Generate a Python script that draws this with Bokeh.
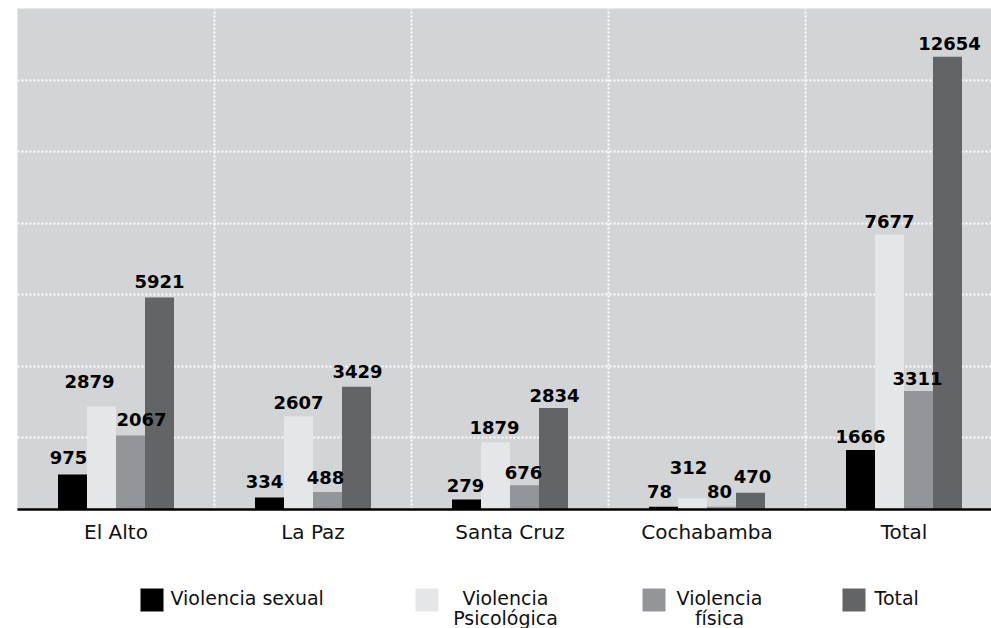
from bokeh.plotting import figure
from bokeh.models import Range1d, FixedTicker, Grid
from bokeh.layouts import column
from bokeh.core.properties import value
from bokeh.embed import file_html
from bokeh.resources import INLINE

# Data: reported cases by city and type of violence
regions = ["El Alto", "La Paz", "Santa Cruz", "Cochabamba", "Total"]
sexual = [975, 334, 279, 78, 1666]
psicologica = [2879, 2607, 1879, 312, 7677]
fisica = [2067, 488, 676, 80, 3311]
total = [5921, 3429, 2834, 470, 12654]

series_names = ["Violencia sexual", "Violencia\nPsicológica", "Violencia\nfísica", "Total"]
series_values = [sexual, psicologica, fisica, total]
colors = ["#000000", "#e5e6e8", "#939598", "#636466"]

# small pixel nudges for the value labels (per series, per region)
label_dx = [[-4, -5, -1, -4, 0], [-12, 0, -1, -4, 0], [11, -2, -1, -2, -1], [0, 1, 1, 2, 2]]
label_dy = [[-3, -2, 0, -1, 1], [-11, 0, -1, -17, 1], [-2, -1, 1, -1, 1], [-2, -1, 1, -2, 1]]
LABEL_GAP = 14

BG = "#d3d4d6"
W = 991
LEFT = 17
FRAME_W = W - LEFT
CAT_PX = 197.0
bar_w = 29.0 / CAT_PX

p = figure(
    width=W, height=560,
    x_range=Range1d(-0.5, -0.5 + FRAME_W / CAT_PX),
    y_range=Range1d(0, 14000),
    y_axis_location=None,
    toolbar_location=None,
    output_backend="svg",
    min_border_left=LEFT, min_border_right=0, min_border_top=8, min_border_bottom=51,
)
p.background_fill_color = BG
p.border_fill_color = "white"
p.outline_line_color = None

# dotted white grid: horizontal every 2000, vertical between groups
p.xgrid.visible = False
p.ygrid.ticker = FixedTicker(ticks=[2000, 4000, 6000, 8000, 10000, 12000])
p.ygrid.grid_line_color = "white"
p.ygrid.grid_line_width = 2
p.ygrid.grid_line_dash = "2 2"
vgrid = Grid(dimension=0, ticker=FixedTicker(ticks=[0.5, 1.5, 2.5, 3.5]),
             grid_line_color="white", grid_line_width=2, grid_line_dash="2 2")
p.add_layout(vgrid)

xs = list(range(len(regions)))
bar_x = []
for k, (vals, col) in enumerate(zip(series_values, colors)):
    off = (k - 1.5) * bar_w
    bx = [x + off for x in xs]
    bar_x.append(bx)
    p.vbar(x=bx, top=vals, bottom=0, width=bar_w, fill_color=col, line_color=None)

# value labels drawn after all bars so none is hidden
for k, vals in enumerate(series_values):
    p.text(x=bar_x[k], y=vals, text=[str(v) for v in vals],
           x_offset=label_dx[k], y_offset=[-LABEL_GAP + d for d in label_dy[k]],
           text_align="center", text_baseline="alphabetic",
           text_font=value("DejaVu Sans"), text_font_style="bold",
           text_font_size="18px", text_color="#000000")

ax = p.xaxis[0]
ax.ticker = FixedTicker(ticks=xs)
ax.major_label_overrides = {i: r for i, r in enumerate(regions)}
ax.axis_line_color = "#000000"
ax.axis_line_width = 2.5
ax.major_tick_line_color = None
ax.minor_tick_line_color = None
ax.major_label_standoff = 4
ax.major_label_text_font = "DejaVu Sans"
ax.major_label_text_font_size = "20px"
ax.major_label_text_color = "#111111"

# legend strip below the chart (its frame lines up with the chart frame)
leg = figure(
    width=W, height=68,
    x_range=Range1d(LEFT, W), y_range=Range1d(628, 560),
    x_axis_location=None, y_axis_location=None,
    toolbar_location=None, output_backend="svg",
    min_border_left=LEFT, min_border_right=0, min_border_top=0, min_border_bottom=0,
)
leg.outline_line_color = None
leg.background_fill_color = "white"
leg.border_fill_color = "white"
for g in leg.grid:
    g.visible = False

sw_left = [140, 415, 642, 842]
sw_size = 23
sw_top = 588
leg.quad(left=sw_left, right=[l + sw_size for l in sw_left],
         top=[sw_top] * 4, bottom=[sw_top + sw_size] * 4,
         fill_color=colors, line_color=None)

text_anchor = [(170, "left"), (505, "center"), (719, "center"), (874, "left")]
lx, ly, lt, la = [], [], [], []
for name, (tx, align) in zip(series_names, text_anchor):
    for j, line in enumerate(name.split("\n")):
        lx.append(tx)
        ly.append(597 + 20 * j)
        lt.append(line)
        la.append(align)
leg.text(x=lx, y=ly, text=lt, text_align=la, text_baseline="alphabetic",
         text_font=value("DejaVu Sans"), text_font_size="19px", text_color="#111111")

layout = column(p, leg, spacing=0)
open("out.html", "w").write(file_html(layout, INLINE))
